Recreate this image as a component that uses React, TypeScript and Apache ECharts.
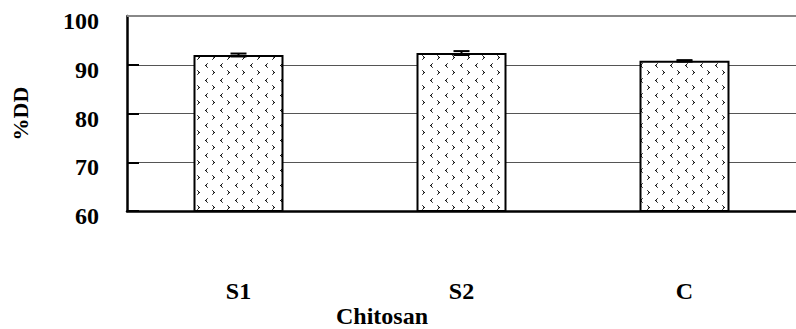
import React, { useEffect, useRef } from "react";
import * as echarts from "echarts";

const categories = ["S1", "S2", "C"];
const ddValues = [92.0, 92.4, 90.8];
const ddErrors = [0.3, 0.4, 0.15];
const yTicks = { min: 60, max: 100, interval: 10 };
const xTitle = "Chitosan";
const yTitle = "%DD";

const FONT = "Liberation Serif, Times New Roman, serif";

function makePattern(): HTMLCanvasElement {
  const c = document.createElement("canvas");
  c.width = 15;
  c.height = 15;
  const ctx = c.getContext("2d")!;
  ctx.fillStyle = "#ffffff";
  ctx.fillRect(0, 0, 15, 15);
  const px = (x: number, y: number, col: string) => {
    ctx.fillStyle = col;
    ctx.fillRect(x, y, 1, 1);
  };
  // "<" mark
  const lx = 10, ly = 3;
  px(lx + 2, ly + 0, "#555");
  px(lx + 1, ly + 1, "#111");
  px(lx + 0, ly + 2, "#111");
  px(lx + 1, ly + 2, "#777");
  px(lx + 1, ly + 3, "#111");
  px(lx + 2, ly + 4, "#555");
  // ">" mark
  const gx = 2, gy = 10;
  px(gx + 0, gy + 0, "#555");
  px(gx + 1, gy + 1, "#111");
  px(gx + 2, gy + 2, "#111");
  px(gx + 1, gy + 2, "#777");
  px(gx + 1, gy + 3, "#111");
  px(gx + 0, gy + 4, "#555");
  return c;
}

export default function App() {
  const ref = useRef<HTMLDivElement>(null);
  useEffect(() => {
    if (!ref.current) return;
    const chart = echarts.init(ref.current, undefined, { renderer: "svg" });
    const pattern = makePattern();
    const errData = categories.map((_, i) => [i, ddValues[i], ddErrors[i]]);
    chart.setOption({
      animation: false,
      textStyle: { fontFamily: FONT },
      grid: { left: 127, right: -9, top: 16, bottom: 118 },
      xAxis: {
        type: "category",
        data: categories,
        axisLine: { lineStyle: { color: "#000", width: 2.5 } },
        axisTick: { inside: true, length: 12, lineStyle: { color: "#000", width: 2 } },
        axisLabel: {
          margin: 68,
          fontFamily: FONT,
          fontWeight: "bold",
          fontSize: 24,
          lineHeight: 24,
          color: "#000",
        },
      },
      yAxis: {
        type: "value",
        min: yTicks.min,
        max: yTicks.max,
        interval: yTicks.interval,
        name: yTitle,
        nameLocation: "middle",
        nameRotate: 90,
        nameGap: 96,
        nameTextStyle: { fontFamily: FONT, fontWeight: "bold", fontSize: 22, color: "#000" },
        axisLine: { show: true, lineStyle: { color: "#000", width: 2.5 } },
        axisTick: { show: true, inside: true, length: 12, lineStyle: { color: "#000", width: 2 } },
        axisLabel: {
          margin: 28,
          fontFamily: FONT,
          fontWeight: "bold",
          fontSize: 24,
          color: "#000",
          verticalAlign: "top",
          lineHeight: 10,
        },
        splitLine: { show: true, lineStyle: { color: "#555", width: 1 } },
      },
      graphic: [
        {
          type: "text",
          x: 382,
          y: 316,
          style: {
            text: xTitle,
            fontFamily: FONT,
            fontWeight: "bold",
            fontSize: 24,
            fill: "#000",
            textAlign: "center",
            textVerticalAlign: "middle",
          },
        },
      ],
      series: [
        {
          type: "bar",
          data: ddValues,
          barWidth: 90,
          itemStyle: {
            color: { image: pattern, repeat: "repeat" },
            borderColor: "#000",
            borderWidth: 2,
          },
          markLine: {
            silent: true,
            symbol: "none",
            label: { show: false },
            lineStyle: { color: "#888", width: 2, type: "solid" },
            data: [{ yAxis: yTicks.max }],
          },
        },
        {
          type: "custom",
          data: errData,
          z: 10,
          renderItem: (params: any, api: any) => {
            const i = api.value(0);
            const v = api.value(1);
            const e = api.value(2);
            const top = api.coord([i, v + e]);
            const bot = api.coord([i, v - e]);
            const hw = 8;
            const st = { stroke: "#000", lineWidth: 2 };
            return {
              type: "group",
              children: [
                { type: "line", shape: { x1: top[0], y1: top[1], x2: bot[0], y2: bot[1] }, style: st },
                { type: "line", shape: { x1: top[0] - hw, y1: top[1], x2: top[0] + hw, y2: top[1] }, style: st },
                { type: "line", shape: { x1: bot[0] - hw, y1: bot[1], x2: bot[0] + hw, y2: bot[1] }, style: st },
              ],
            };
          },
        },
      ],
    });
    return () => chart.dispose();
  }, []);
  return (
    <div
      ref={ref}
      style={{ position: "fixed", left: 0, top: 0, width: 796, height: 329, background: "#fff" }}
    />
  );
}
